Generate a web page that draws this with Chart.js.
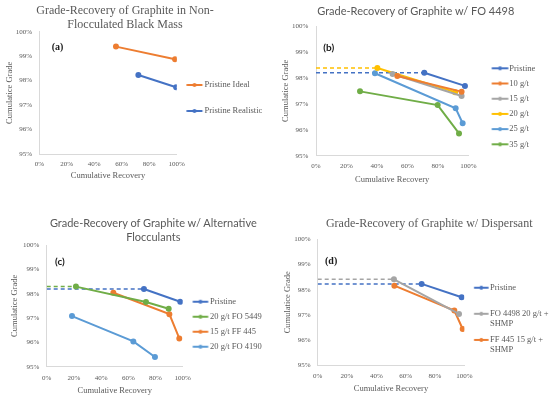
<!DOCTYPE html>
<html>
<head>
<meta charset="utf-8">
<script src="https://cdn.jsdelivr.net/npm/chart.js@4.4.0/dist/chart.umd.min.js"></script>
<style>
  html, body { margin: 0; padding: 0; background: #fff; overflow: hidden; }
  #page { position: relative; width: 550px; height: 399px; }
  canvas { position: absolute; }
  .title { position: absolute; transform: translateX(-50%); white-space: nowrap; color: #595959; text-align: center; font-size: 12px; line-height: 14.3px; }
  .serif { font-family: 'Liberation Serif', serif; }
  .sans { font-family: Lato, sans-serif; font-size: 11px; }
  .tag { position: absolute; font-weight: bold; color: #1a1a1a; font-size: 10px; line-height: 12px; }
</style>
</head>
<body>
<div id="page">
  <canvas id="chartA" width="275" height="200" style="left:0;top:0"></canvas>
  <canvas id="chartB" width="275" height="200" style="left:275px;top:0"></canvas>
  <canvas id="chartC" width="275" height="199" style="left:0;top:200px"></canvas>
  <canvas id="chartD" width="275" height="199" style="left:275px;top:200px"></canvas>

  <div class="title serif" style="left:125px;top:2.9px">Grade-Recovery of Graphite in Non-<br>Flocculated Black Mass</div>
  <div class="title sans" style="left:415.8px;top:3.9px">Grade-Recovery of Graphite w/ FO 4498</div>
  <div class="title sans" style="left:153.3px;top:216.1px">Grade-Recovery of Graphite w/ Alternative<br>Flocculants</div>
  <div class="title serif" style="left:429.2px;top:216.1px">Grade-Recovery of Graphite w/ Dispersant</div>

  <div class="tag serif" style="left:51.7px;top:40.7px">(a)</div>
  <div class="tag sans" style="left:323.3px;top:40.7px">(b)</div>
  <div class="tag sans" style="left:55px;top:254.7px">(c)</div>
  <div class="tag serif" style="left:325px;top:254.7px">(d)</div>
</div>
<script>
const blue = '#4472C4', orange = '#ED7D31', gray = '#A5A5A5',
      yellow = '#FFC000', lightBlue = '#5B9BD5', green = '#70AD47';

// axes (percent)
const recoveryMin = 0, recoveryMax = 100, recoveryStep = 20;
const gradeMin = 95, gradeMax = 100, gradeStep = 1;

// (a) non-flocculated black mass
const aLabels = ['Pristine Ideal', 'Pristine Realistic'];
const aColors = [orange, blue];
const aRecovery = [[55.8, 98.8], [72.1, 99.6]];
const aGrade = [[99.39, 98.87], [98.23, 97.73]];
const aDashed = [];

// (b) FO 4498 dosages
const bLabels = ['Pristine', '10 g/t', '15 g/t', '20 g/t', '25 g/t', '35 g/t'];
const bColors = [blue, orange, gray, yellow, lightBlue, green];
const bRecovery = [[71.1, 97.8], [53.4, 95.6], [50.3, 95.6], [40.3, 91.3], [38.7, 91.7, 96.3], [28.9, 79.9, 93.9]];
const bGrade = [[98.2, 97.69], [98.07, 97.47], [98.15, 97.3], [98.38, 97.45], [98.18, 96.83, 96.25], [97.48, 96.95, 95.86]];
const bDashed = [0, 3];

// (c) alternative flocculants
const cLabels = ['Pristine', '20 g/t FO 5449', '15 g/t FF 445', '20 g/t FO 4190'];
const cColors = [blue, green, orange, lightBlue];
const cRecovery = [[71.5, 98.2], [21.5, 73.0, 89.7], [49.0, 90.2, 97.5], [18.6, 63.7, 79.6]];
const cGrade = [[98.19, 97.67], [98.29, 97.66, 97.38], [98.04, 97.16, 96.16], [97.08, 96.04, 95.4]];
const cDashed = [0, 1];

// (d) dispersant
const dLabels = ['Pristine', 'FO 4498 20 g/t +\nSHMP', 'FF 445 15 g/t +\nSHMP'];
const dColors = [blue, gray, orange];
const dRecovery = [[70.9, 98.2], [52.0, 96.4], [52.3, 93.2, 98.9]];
const dGrade = [[98.23, 97.7], [98.41, 97.04], [98.16, 97.17, 96.44]];
const dDashed = [0, 1];

const SERIF = "'Liberation Serif', 'Times New Roman', serif";
const TEXT = '#595959';
const TICK_FS = 7, AXIS_FS = 8.5, LEG_FS = 8.5, LEG_LH = 9.8;

// legend marker: a short line with a dot, offset so it starts at m0 from the item origin
function markerImage(color, len, m0, bw) {
  const shift = (m0 + len / 2) - bw / 2;
  const w = Math.ceil(len + 2 * Math.abs(shift)) + 2;
  const c = document.createElement('canvas');
  c.width = w; c.height = 8;
  const g = c.getContext('2d');
  const start = w / 2 + shift - len / 2;
  g.strokeStyle = color; g.lineWidth = 2;
  g.beginPath(); g.moveTo(start, 4); g.lineTo(start + len, 4); g.stroke();
  g.fillStyle = color;
  g.beginPath(); g.arc(start + len / 2, 4, 2, 0, Math.PI * 2); g.fill();
  return c;
}

// the legend box is narrower than its text here, so let it run to the canvas edge
const legendRoom = {
  id: 'legendRoom',
  afterLayout(chart) {
    const lg = chart.legend;
    lg.right = chart.width;
    lg.width = lg.right - lg.left;
  }
};

function makeChart(id, s, g) {
  const datasets = s.labels.map((label, i) => ({
    label,
    borderColor: s.colors[i],
    backgroundColor: s.colors[i],
    data: s.recovery[i].map((x, k) => ({ x, y: s.grade[i][k] })),
    showLine: true,
    borderWidth: 2,
    pointRadius: 2,
    pointHoverRadius: 2
  }));
  s.dashed.forEach(i => datasets.push({
    label: '',
    dashed: true,
    borderColor: s.colors[i],
    borderDash: [4, 3],
    borderWidth: 1.5,
    pointRadius: 0,
    showLine: true,
    data: [{ x: recoveryMin, y: s.grade[i][0] }, { x: s.recovery[i][0], y: s.grade[i][0] }]
  }));

  const lh = AXIS_FS * 1.2;
  const padLeft = g.yTitleX - lh / 2;
  const yw = g.L - padLeft;
  const xh = g.xTitleY - g.B + lh / 2;
  const padBottom = g.H - g.B - xh;
  const p = g.spacing - (g.lines ? LEG_LH * g.lines : LEG_FS);
  const x0 = g.R + p;
  const m0 = g.markerX - x0;
  const bw = (g.textX - x0) - LEG_FS / 2;
  const titlePad = g.legendY - LEG_FS / 2 - g.T - 1 - p;

  const chart = new Chart(document.getElementById(id), {
    type: 'scatter',
    data: { datasets },
    plugins: [legendRoom],
    options: {
      responsive: false,
      animation: false,
      devicePixelRatio: 1,
      layout: { padding: { top: g.T, left: padLeft, right: 0, bottom: padBottom } },
      plugins: {
        tooltip: { enabled: false },
        title: { display: false },
        legend: {
          position: 'right',
          align: 'start',
          title: { display: true, text: '', padding: { top: titlePad, bottom: 0 }, font: { size: 1, lineHeight: 1 } },
          labels: {
            usePointStyle: true,
            pointStyleWidth: bw,
            padding: p,
            color: TEXT,
            font: { family: SERIF, size: LEG_FS, lineHeight: LEG_LH / LEG_FS },
            generateLabels: chart => chart.data.datasets
              .map((ds, i) => {
                let text = ds.label;
                if (g.lines) {
                  text = ds.label.split('\n');
                  while (text.length < g.lines) text.push('');
                }
                return {
                  text,
                  datasetIndex: i,
                  hidden: false,
                  fontColor: TEXT,
                  lineWidth: 0,
                  strokeStyle: ds.borderColor,
                  fillStyle: ds.borderColor,
                  pointStyle: markerImage(ds.borderColor, g.markerLen, m0, bw)
                };
              })
              .filter(item => !chart.data.datasets[item.datasetIndex].dashed)
          }
        }
      },
      scales: {
        x: {
          type: 'linear',
          min: recoveryMin, max: recoveryMax,
          afterFit: scale => { scale.height = xh; },
          grid: { display: false, drawTicks: false },
          border: { display: true, color: '#D9D9D9' },
          ticks: {
            stepSize: recoveryStep,
            padding: g.xTickY - g.B - TICK_FS * 0.6,
            color: TEXT,
            font: { family: SERIF, size: TICK_FS },
            maxRotation: 0,
            callback: v => v + '%'
          },
          title: { display: true, text: 'Cumulative Recovery', color: TEXT, padding: 0, font: { family: SERIF, size: AXIS_FS } }
        },
        y: {
          type: 'linear',
          min: gradeMin, max: gradeMax,
          afterFit: scale => { scale.width = yw; },
          grid: { display: false, drawTicks: false },
          border: { display: true, color: '#D9D9D9' },
          ticks: {
            stepSize: gradeStep,
            padding: g.L - g.yTickRight,
            color: TEXT,
            font: { family: SERIF, size: TICK_FS },
            callback: v => v + '%'
          },
          title: { display: true, text: 'Cumulatice Grade', color: TEXT, padding: 0, font: { family: SERIF, size: AXIS_FS } }
        }
      }
    }
  });

  // settle the right padding so the plot area ends where the reference's does
  for (let k = 0; k < 8; k++) {
    chart.options.layout.padding.right = Math.max(0, chart.options.layout.padding.right + chart.chartArea.right - g.R);
    chart.update();
  }
  return chart;
}

makeChart('chartA',
  { labels: aLabels, colors: aColors, recovery: aRecovery, grade: aGrade, dashed: aDashed },
  { W: 275, H: 200, T: 31.7, L: 39.3, R: 176.7, B: 154, yTitleX: 10, xTitleY: 176, xTickY: 164, yTickRight: 32,
    legendY: 85, spacing: 26, markerX: 186.5, markerLen: 16, textX: 204.5 });

makeChart('chartB',
  { labels: bLabels, colors: bColors, recovery: bRecovery, grade: bGrade, dashed: bDashed },
  { W: 275, H: 200, T: 26, L: 41, R: 193.3, B: 155.7, yTitleX: 11, xTitleY: 179.3, xTickY: 165.7, yTickRight: 33.3,
    legendY: 68.3, spacing: 15.2, markerX: 216.7, markerLen: 16.6, textX: 234.3 });

makeChart('chartC',
  { labels: cLabels, colors: cColors, recovery: cRecovery, grade: cGrade, dashed: cDashed },
  { W: 275, H: 199, T: 45, L: 46.7, R: 182.7, B: 166.7, yTitleX: 15, xTitleY: 191, xTickY: 178.3, yTickRight: 39.3,
    legendY: 101.7, spacing: 15, markerX: 192.7, markerLen: 15.5, textX: 210 });

makeChart('chartD',
  { labels: dLabels, colors: dColors, recovery: dRecovery, grade: dGrade, dashed: dDashed },
  { W: 275, H: 199, T: 39.3, L: 42.7, R: 189.3, B: 165.3, yTitleX: 12.7, xTitleY: 189, xTickY: 175.7, yTickRight: 35.7,
    legendY: 87.7, spacing: 26.1, markerX: 199, markerLen: 14.5, textX: 215, lines: 2 });
</script>
</body>
</html>
